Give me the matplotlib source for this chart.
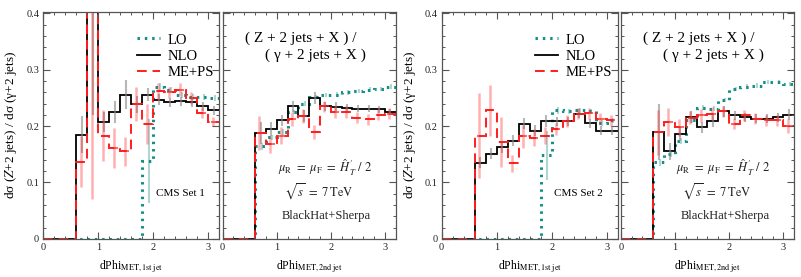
import numpy as np
import matplotlib
matplotlib.use('Agg')
from matplotlib import pyplot as plt
from matplotlib.lines import Line2D
from matplotlib.ticker import MultipleLocator

plt.rcParams['font.family'] = ['Liberation Serif', 'DejaVu Serif']
plt.rcParams['mathtext.fontset'] = 'stix'

# bin edges, dPhi
edges = [0.0, 0.2, 0.4, 0.6, 0.8, 1.0, 1.2, 1.4, 1.6, 1.8, 2.0, 2.2, 2.4, 2.6, 2.8, 3.0, 3.2]

# CMS set 1, 1st jet
lo1 = [0, 0, 0, 0, 0, 0, 0, 0, 0, 0.138, 0.270, 0.265, 0.255, 0.252, 0.252, 0.250]
lo1_err = [0, 0, 0, 0, 0, 0, 0, 0, 0, 0.075, 0.006, 0.005, 0.005, 0.005, 0.005, 0.005]
nlo1 = [0, 0, 0, 0.185, 0.50, 0.207, 0.225, 0.256, 0.239, 0.256, 0.247, 0.242, 0.244, 0.242, 0.235, 0.228]
nlo1_err = [0, 0, 0, 0.033, 0.28, 0.018, 0.02, 0.025, 0.015, 0.012, 0.01, 0.008, 0.008, 0.008, 0.008, 0.008]
me1 = [0, 0, 0, 0.137, 0.55, 0.183, 0.161, 0.155, 0.239, 0.204, 0.262, 0.260, 0.265, 0.250, 0.224, 0.208]
me1_err = [0, 0, 0, 0.045, 0.48, 0.045, 0.035, 0.025, 0.03, 0.035, 0.015, 0.01, 0.012, 0.01, 0.01, 0.008]

# CMS set 1, 2nd jet
lo2 = [0, 0, 0, 0.164, 0.180, 0.190, 0.225, 0.240, 0.252, 0.255, 0.256, 0.260, 0.262, 0.265, 0.266, 0.270]
lo2_err = [0, 0, 0, 0.006, 0.005, 0.005, 0.004, 0.004, 0.004, 0.004, 0.004, 0.004, 0.004, 0.004, 0.004, 0.004]
nlo2 = [0, 0, 0, 0.1875, 0.195, 0.210, 0.235, 0.218, 0.250, 0.235, 0.234, 0.233, 0.231, 0.231, 0.230, 0.225]
nlo2_err = [0, 0, 0, 0.02, 0.012, 0.01, 0.01, 0.01, 0.01, 0.008, 0.008, 0.006, 0.006, 0.006, 0.006, 0.006]
me2 = [0, 0, 0, 0.1875, 0.168, 0.183, 0.213, 0.218, 0.190, 0.235, 0.225, 0.225, 0.215, 0.212, 0.220, 0.222]
me2_err = [0, 0, 0, 0.03, 0.015, 0.015, 0.012, 0.012, 0.012, 0.01, 0.01, 0.01, 0.01, 0.01, 0.01, 0.01]

# CMS set 2, 1st jet
lo3 = [0, 0, 0, 0, 0, 0, 0, 0, 0, 0.148, 0.228, 0.226, 0.228, 0.226, 0.205, 0.210]
lo3_err = [0, 0, 0, 0, 0, 0, 0, 0, 0, 0.043, 0.006, 0.005, 0.005, 0.005, 0.005, 0.005]
nlo3 = [0, 0, 0, 0.135, 0.151, 0.163, 0.174, 0.204, 0.192, 0.209, 0.209, 0.209, 0.222, 0.205, 0.192, 0.192]
nlo3_err = [0, 0, 0, 0.01, 0.01, 0.01, 0.01, 0.01, 0.01, 0.01, 0.008, 0.008, 0.008, 0.008, 0.008, 0.008]
me3 = [0, 0, 0, 0.183, 0.228, 0.172, 0.134, 0.182, 0.179, 0.183, 0.195, 0.209, 0.222, 0.223, 0.213, 0.210]
me3_err = [0, 0, 0, 0.075, 0.045, 0.045, 0.015, 0.02, 0.015, 0.015, 0.01, 0.01, 0.01, 0.01, 0.01, 0.01]

# CMS set 2, 2nd jet
lo4 = [0, 0, 0, 0.136, 0.151, 0.174, 0.210, 0.233, 0.231, 0.246, 0.266, 0.270, 0.272, 0.278, 0.278, 0.275]
lo4_err = [0, 0, 0, 0.006, 0.005, 0.005, 0.004, 0.004, 0.004, 0.004, 0.004, 0.004, 0.004, 0.004, 0.004, 0.004]
nlo4 = [0, 0, 0, 0.189, 0.155, 0.186, 0.216, 0.198, 0.209, 0.226, 0.219, 0.216, 0.213, 0.213, 0.216, 0.220]
nlo4_err = [0, 0, 0, 0.05, 0.015, 0.012, 0.01, 0.01, 0.01, 0.01, 0.008, 0.008, 0.008, 0.008, 0.008, 0.01]
me4 = [0, 0, 0, 0.189, 0.207, 0.198, 0.215, 0.219, 0.222, 0.226, 0.204, 0.219, 0.213, 0.210, 0.210, 0.200]
me4_err = [0, 0, 0, 0.04, 0.025, 0.015, 0.012, 0.012, 0.012, 0.01, 0.01, 0.01, 0.01, 0.01, 0.01, 0.012]

TEAL = '#178f86'
RED = '#ff1e1e'
GREY = '#555555'

fig = plt.figure(figsize=(8.01, 2.77), dpi=100)
bot, h = 0.138, 0.8195
ax1 = fig.add_axes([0.0541, bot, 0.2197, h])
ax2 = fig.add_axes([0.2780, bot, 0.2160, h])
ax3 = fig.add_axes([0.5514, bot, 0.2197, h])
ax4 = fig.add_axes([0.7749, bot, 0.2167, h])

panels = [(ax1, lo1, lo1_err, nlo1, nlo1_err, me1, me1_err),
          (ax2, lo2, lo2_err, nlo2, nlo2_err, me2, me2_err),
          (ax3, lo3, lo3_err, nlo3, nlo3_err, me3, me3_err),
          (ax4, lo4, lo4_err, nlo4, nlo4_err, me4, me4_err)]

centers = 0.5 * (np.array(edges[:-1]) + np.array(edges[1:]))

for ax, lo, loe, nlo, nloe, me, mee in panels:
    # error bars first (light)
    lo_a, nlo_a, me_a = np.array(lo), np.array(nlo), np.array(me)
    m = lo_a > 0
    ax.vlines(centers[m] + 0.02, (lo_a - loe)[m], (lo_a + loe)[m], color=TEAL, alpha=0.35, lw=1.5)
    m = nlo_a > 0
    ax.vlines(centers[m], (nlo_a - nloe)[m], (nlo_a + nloe)[m], color='#888888', alpha=0.6, lw=1.5)
    m = me_a > 0
    ax.vlines(centers[m] - 0.02, (me_a - mee)[m], (me_a + mee)[m], color=RED, alpha=0.35, lw=1.8)
    ax.hlines(me_a[m], centers[m] - 0.06, centers[m] + 0.06, color=RED, alpha=0.8, lw=1.2)

    ax.stairs(lo, edges, color=TEAL, lw=2.2, linestyle=(0, (0.8, 1.6)), baseline=None)
    ax.stairs(nlo, edges, color='black', lw=1.3, baseline=None)
    ax.stairs(me, edges, color=RED, lw=1.4, linestyle=(0, (5, 3)), baseline=None)

    ax.set_xlim(0, 3.2)
    ax.set_ylim(0, 0.403)
    ax.xaxis.set_major_locator(MultipleLocator(1))
    ax.xaxis.set_minor_locator(MultipleLocator(0.2))
    ax.yaxis.set_major_locator(MultipleLocator(0.1))
    ax.yaxis.set_minor_locator(MultipleLocator(0.02))
    ax.tick_params(which='both', direction='in', top=True, right=True, colors=GREY,
                   labelcolor='#222222', labelsize=7.5, pad=3)
    ax.tick_params(which='major', length=5, width=0.8)
    ax.tick_params(which='minor', length=2.5, width=0.7)
    ax.set_xticks([0, 1, 2, 3])
    ax.set_xticklabels(['0', '1', '2', '3'])
    for s in ax.spines.values():
        s.set_color(GREY)
        s.set_linewidth(0.9)

ylab = r'dσ ($Z$+2 jets) / dσ (γ+2 jets)'
for ax in (ax1, ax3):
    ax.set_yticks([0, 0.1, 0.2, 0.3, 0.4])
    ax.set_yticklabels(['0', '0.1', '0.2', '0.3', '0.4'])
    ax.set_ylabel(ylab, fontsize=9.5, labelpad=5)
    ax.set_xlabel(r'dPhi$_{\rm MET,1st\ jet}$', fontsize=8.5, labelpad=5)
for ax in (ax2, ax4):
    ax.tick_params(labelleft=False)
    ax.set_xlabel(r'dPhi$_{\rm MET,2nd\ jet}$', fontsize=8.5, labelpad=5)

handles = [Line2D([], [], color=TEAL, lw=2.2, linestyle=(0, (0.8, 1.6))),
           Line2D([], [], color='black', lw=1.3),
           Line2D([], [], color=RED, lw=1.4, linestyle=(0, (5, 3)))]
for ax in (ax1, ax3):
    ax.legend(handles, ['LO', 'NLO', 'ME+PS'], loc='upper left', bbox_to_anchor=(0.53, 0.905),
              frameon=False, fontsize=10.5, handlelength=1.6, handletextpad=0.5,
              labelspacing=0.22, borderaxespad=0, borderpad=0)

ax1.text(0.777, 0.2, 'CMS Set 1', transform=ax1.transAxes, fontsize=8, ha='center', va='center')
ax3.text(0.777, 0.2, 'CMS Set 2', transform=ax3.transAxes, fontsize=8, ha='center', va='center')

for ax in (ax2, ax4):
    ax.text(0.13, 0.884, '( Z + 2 jets + X ) /', transform=ax.transAxes, fontsize=11,
            ha='left', va='center')
    ax.text(0.245, 0.809, '( γ + 2 jets + X )', transform=ax.transAxes, fontsize=11,
            ha='left', va='center')
    ax.text(0.59, 0.31, r'$\mu_{\rm R}\ =\ \mu_{\rm F}\ =\ \hat{H}_T^{\prime}\ /\ 2$',
            transform=ax.transAxes, fontsize=9, ha='center', va='center', color='#222222')
    ax.text(0.555, 0.205, r'$\sqrt{s}\ =\ 7\,\mathrm{TeV}$', transform=ax.transAxes,
            fontsize=9, ha='center', va='center', color='#222222')
    ax.text(0.6, 0.1, 'BlackHat+Sherpa', transform=ax.transAxes, fontsize=9,
            ha='center', va='center', color='#222222')

fig.savefig('out.png', dpi=100)
